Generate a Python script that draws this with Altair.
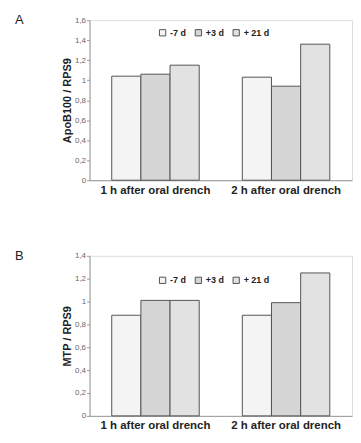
import altair as alt
import pandas as pd

groups = ["1 h after oral drench", "2 h after oral drench"]
series = ["-7 d", "+3 d", "+ 21 d"]
apob_values = [1.04, 1.06, 1.15, 1.03, 0.94, 1.36]
mtp_values = [0.88, 1.01, 1.01, 0.88, 0.99, 1.25]
fills = ["#f4f4f4", "#d6d6d6", "#e2e2e2"]
FONT = "Liberation Sans"


def make_df(values):
    rows = []
    i = 0
    for g in groups:
        for s in series:
            rows.append({"group": g, "series": s, "value": values[i]})
            i += 1
    return pd.DataFrame(rows)


def panel(values, ymax, ytitle, letter, legend_y, height):
    df = make_df(values)
    base = alt.Chart(df)
    bars = base.mark_bar(stroke="#555555", strokeWidth=1).encode(
        x=alt.X("group:N", sort=groups,
                scale=alt.Scale(paddingInner=0.33, paddingOuter=0.17),
                axis=alt.Axis(title=None, labelAngle=0, ticks=False, labelFontSize=11.5,
                              labelFontWeight="bold", labelColor="#222222",
                              domainColor="#9a9a9a", labelPadding=4, labelFont=FONT)),
        xOffset=alt.XOffset("series:N", sort=series),
        y=alt.Y("value:Q",
                scale=alt.Scale(domain=[0, ymax], nice=False),
                axis=alt.Axis(title=ytitle, values=[round(v * 0.2, 1) for v in range(int(round(ymax / 0.2)) + 1)],
                              labelExpr="replace(format(datum.value, '.1~f'), '.', ',')",
                              labelFontSize=8, labelColor="#666666", labelFont=FONT,
                              tickColor="#9a9a9a", tickSize=3, labelPadding=1,
                              domainColor="#9a9a9a",
                              grid=False, titleFontSize=11, titleFontWeight="bold",
                              titleColor="#222222", titleFont=FONT, titlePadding=2)),
        fill=alt.Fill("series:N", sort=series,
                      scale=alt.Scale(domain=series, range=fills),
                      legend=alt.Legend(title=None, orient="none", direction="horizontal",
                                        legendX=69, legendY=legend_y, symbolType="square",
                                        symbolSize=40, symbolStrokeColor="#555555",
                                        symbolStrokeWidth=1, labelFontSize=9,
                                        labelFontWeight="bold", labelColor="#222222",
                                        labelFont=FONT, columnPadding=6, symbolOffset=0,
                                        labelOffset=3)),
    )
    label = alt.Chart(pd.DataFrame({"t": [letter]})).mark_text(
        fontSize=13, font=FONT, color="#222222", align="left", baseline="middle"
    ).encode(text="t:N", x=alt.value(-75), y=alt.value(0))
    return alt.layer(bars, label).properties(width=264, height=height)


chart = alt.vconcat(
    panel(apob_values, 1.6, "ApoB100 / RPS9", "A", 8, 161),
    panel(mtp_values, 1.4, "MTP / RPS9", "B", 20, 161),
    spacing=53,
).resolve_legend(fill="independent").resolve_scale(fill="independent").configure_view(
    stroke=None
).configure(background="white", padding={"left": 6, "top": 4, "right": 0, "bottom": 0})

chart.save("out.html", embed_options={"renderer": "svg", "actions": False})
